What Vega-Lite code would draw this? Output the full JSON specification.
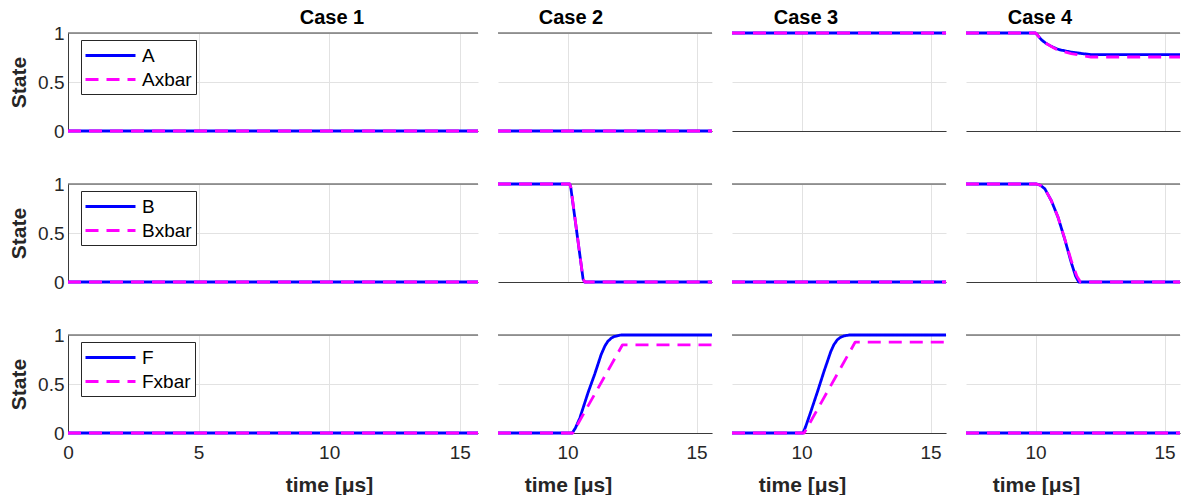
{
"$schema": "https://vega.github.io/schema/vega-lite/v6.json",
"background": "white",
"padding": {"left": 8, "top": 8, "right": 0, "bottom": 0},
"bounds": "flush",
"columns": 4,
"align": "each",
"spacing": {"row": 53, "column": 20},
"datasets": {"d": [
{"c":1,"v":"A","s":"A","t":0,"y":0},{"c":1,"v":"A","s":"A","t":15.7,"y":0},
{"c":1,"v":"A","s":"Axbar","t":0,"y":0},{"c":1,"v":"A","s":"Axbar","t":15.7,"y":0},
{"c":1,"v":"B","s":"B","t":0,"y":0},{"c":1,"v":"B","s":"B","t":15.7,"y":0},
{"c":1,"v":"B","s":"Bxbar","t":0,"y":0},{"c":1,"v":"B","s":"Bxbar","t":15.7,"y":0},
{"c":1,"v":"F","s":"F","t":0,"y":0},{"c":1,"v":"F","s":"F","t":15.7,"y":0},
{"c":1,"v":"F","s":"Fxbar","t":0,"y":0},{"c":1,"v":"F","s":"Fxbar","t":15.7,"y":0},

{"c":2,"v":"A","s":"A","t":7.3,"y":0},{"c":2,"v":"A","s":"A","t":15.6,"y":0},
{"c":2,"v":"A","s":"Axbar","t":7.3,"y":0},{"c":2,"v":"A","s":"Axbar","t":15.6,"y":0},
{"c":2,"v":"B","s":"B","t":7.3,"y":1},{"c":2,"v":"B","s":"B","t":10.08,"y":1},{"c":2,"v":"B","s":"B","t":10.12,"y":0.97},{"c":2,"v":"B","s":"B","t":10.6,"y":0.03},{"c":2,"v":"B","s":"B","t":10.66,"y":0},{"c":2,"v":"B","s":"B","t":15.6,"y":0},
{"c":2,"v":"B","s":"Bxbar","t":7.3,"y":1},{"c":2,"v":"B","s":"Bxbar","t":10.08,"y":1},{"c":2,"v":"B","s":"Bxbar","t":10.13,"y":0.96},{"c":2,"v":"B","s":"Bxbar","t":10.6,"y":0.03},{"c":2,"v":"B","s":"Bxbar","t":10.67,"y":0},{"c":2,"v":"B","s":"Bxbar","t":15.6,"y":0},
{"c":2,"v":"F","s":"F","t":7.3,"y":0},{"c":2,"v":"F","s":"F","t":10.18,"y":0},{"c":2,"v":"F","s":"F","t":10.3,"y":0.05},{"c":2,"v":"F","s":"F","t":10.47,"y":0.15},{"c":2,"v":"F","s":"F","t":10.79,"y":0.41},{"c":2,"v":"F","s":"F","t":11.05,"y":0.6},{"c":2,"v":"F","s":"F","t":11.3,"y":0.8},{"c":2,"v":"F","s":"F","t":11.45,"y":0.89},{"c":2,"v":"F","s":"F","t":11.56,"y":0.935},{"c":2,"v":"F","s":"F","t":11.7,"y":0.97},{"c":2,"v":"F","s":"F","t":11.81,"y":0.985},{"c":2,"v":"F","s":"F","t":12.07,"y":1},{"c":2,"v":"F","s":"F","t":15.6,"y":1},
{"c":2,"v":"F","s":"Fxbar","t":7.3,"y":0},{"c":2,"v":"F","s":"Fxbar","t":10.2,"y":0},{"c":2,"v":"F","s":"Fxbar","t":12.13,"y":0.9},{"c":2,"v":"F","s":"Fxbar","t":15.6,"y":0.9},

{"c":3,"v":"A","s":"A","t":7.3,"y":1},{"c":3,"v":"A","s":"A","t":15.6,"y":1},
{"c":3,"v":"A","s":"Axbar","t":7.3,"y":1},{"c":3,"v":"A","s":"Axbar","t":15.6,"y":1},
{"c":3,"v":"B","s":"B","t":7.3,"y":0},{"c":3,"v":"B","s":"B","t":15.6,"y":0},
{"c":3,"v":"B","s":"Bxbar","t":7.3,"y":0},{"c":3,"v":"B","s":"Bxbar","t":15.6,"y":0},
{"c":3,"v":"F","s":"F","t":7.3,"y":0},{"c":3,"v":"F","s":"F","t":10.05,"y":0},{"c":3,"v":"F","s":"F","t":10.15,"y":0.06},{"c":3,"v":"F","s":"F","t":10.36,"y":0.22},{"c":3,"v":"F","s":"F","t":10.62,"y":0.425},{"c":3,"v":"F","s":"F","t":10.87,"y":0.63},{"c":3,"v":"F","s":"F","t":11.13,"y":0.83},{"c":3,"v":"F","s":"F","t":11.25,"y":0.9},{"c":3,"v":"F","s":"F","t":11.38,"y":0.95},{"c":3,"v":"F","s":"F","t":11.5,"y":0.975},{"c":3,"v":"F","s":"F","t":11.64,"y":0.99},{"c":3,"v":"F","s":"F","t":11.85,"y":1},{"c":3,"v":"F","s":"F","t":15.6,"y":1},
{"c":3,"v":"F","s":"Fxbar","t":7.3,"y":0},{"c":3,"v":"F","s":"Fxbar","t":10.1,"y":0},{"c":3,"v":"F","s":"Fxbar","t":12.08,"y":0.928},{"c":3,"v":"F","s":"Fxbar","t":15.6,"y":0.928},

{"c":4,"v":"A","s":"A","t":7.3,"y":1},{"c":4,"v":"A","s":"A","t":10.0,"y":1},{"c":4,"v":"A","s":"A","t":10.1,"y":0.97},{"c":4,"v":"A","s":"A","t":10.23,"y":0.93},{"c":4,"v":"A","s":"A","t":10.4,"y":0.895},{"c":4,"v":"A","s":"A","t":10.61,"y":0.864},{"c":4,"v":"A","s":"A","t":10.8,"y":0.84},{"c":4,"v":"A","s":"A","t":11.0,"y":0.825},{"c":4,"v":"A","s":"A","t":11.38,"y":0.805},{"c":4,"v":"A","s":"A","t":11.9,"y":0.787},{"c":4,"v":"A","s":"A","t":12.15,"y":0.78},{"c":4,"v":"A","s":"A","t":15.6,"y":0.78},
{"c":4,"v":"A","s":"Axbar","t":7.3,"y":1},{"c":4,"v":"A","s":"Axbar","t":10.0,"y":1},{"c":4,"v":"A","s":"Axbar","t":10.1,"y":0.97},{"c":4,"v":"A","s":"Axbar","t":10.23,"y":0.93},{"c":4,"v":"A","s":"Axbar","t":10.4,"y":0.895},{"c":4,"v":"A","s":"Axbar","t":10.61,"y":0.862},{"c":4,"v":"A","s":"Axbar","t":10.8,"y":0.835},{"c":4,"v":"A","s":"Axbar","t":11.0,"y":0.815},{"c":4,"v":"A","s":"Axbar","t":11.38,"y":0.79},{"c":4,"v":"A","s":"Axbar","t":11.9,"y":0.765},{"c":4,"v":"A","s":"Axbar","t":12.15,"y":0.755},{"c":4,"v":"A","s":"Axbar","t":15.6,"y":0.755},
{"c":4,"v":"B","s":"B","t":7.3,"y":1},{"c":4,"v":"B","s":"B","t":10.04,"y":1},{"c":4,"v":"B","s":"B","t":10.2,"y":0.985},{"c":4,"v":"B","s":"B","t":10.36,"y":0.95},{"c":4,"v":"B","s":"B","t":10.61,"y":0.83},{"c":4,"v":"B","s":"B","t":10.87,"y":0.66},{"c":4,"v":"B","s":"B","t":11.13,"y":0.437},{"c":4,"v":"B","s":"B","t":11.38,"y":0.2},{"c":4,"v":"B","s":"B","t":11.55,"y":0.06},{"c":4,"v":"B","s":"B","t":11.67,"y":0},{"c":4,"v":"B","s":"B","t":15.6,"y":0},
{"c":4,"v":"B","s":"Bxbar","t":7.3,"y":1},{"c":4,"v":"B","s":"Bxbar","t":10.04,"y":1},{"c":4,"v":"B","s":"Bxbar","t":10.2,"y":0.985},{"c":4,"v":"B","s":"Bxbar","t":10.36,"y":0.95},{"c":4,"v":"B","s":"Bxbar","t":10.61,"y":0.83},{"c":4,"v":"B","s":"Bxbar","t":10.87,"y":0.66},{"c":4,"v":"B","s":"Bxbar","t":11.13,"y":0.44},{"c":4,"v":"B","s":"Bxbar","t":11.38,"y":0.22},{"c":4,"v":"B","s":"Bxbar","t":11.6,"y":0.06},{"c":4,"v":"B","s":"Bxbar","t":11.74,"y":0},{"c":4,"v":"B","s":"Bxbar","t":15.6,"y":0},
{"c":4,"v":"F","s":"F","t":7.3,"y":0},{"c":4,"v":"F","s":"F","t":15.6,"y":0},
{"c":4,"v":"F","s":"Fxbar","t":7.3,"y":0},{"c":4,"v":"F","s":"Fxbar","t":15.6,"y":0}
]},
"concat": [
{"width":410,"height":98,"title":{"text":"Case 1","dx":59},"layer":[
 {"data":{"values":[{}]},"mark":{"type":"rule","color":"#3a3a3a","strokeWidth":1},"encoding":{"y":{"datum":1,"type":"quantitative","scale":{"domain":[0,1]},"axis":{"values":[0,0.5,1],"format":"~g","title":"State","ticks":false,"labelPadding":4,"titlePadding":8}}}},
 {"data":{"name":"d"},"transform":[{"filter":"datum.c==1 && datum.v=='A'"}],"mark":{"type":"line","strokeWidth":2.8,"strokeJoin":"round"},"encoding":{
  "x":{"field":"t","type":"quantitative","scale":{"domain":[0,15.7],"nice":false,"zero":false},"axis":{"values":[0,5,10,15],"labels":false,"ticks":false,"title":null}},
  "y":{"field":"y","type":"quantitative","scale":{"domain":[0,1]},"axis":{"values":[0,0.5,1],"format":"~g","title":"State","ticks":false,"labelPadding":4,"titlePadding":8}},
  "color":{"field":"s","type":"nominal","scale":{"domain":["A","Axbar"],"range":["#0000ff","#ff00ff"]},"legend":{"title":null,"orient":"none","legendX":13,"legendY":7,"symbolType":"M-2.5,0H2.5","symbolSize":400,"symbolStrokeWidth":2.8,"symbolOffset":14,"labelOffset":20,"padding":4,"rowPadding":2,"strokeColor":"#262626","fillColor":"white","labelFontSize":19,"labelColor":"#000000"}},
  "strokeDash":{"field":"s","type":"nominal","scale":{"domain":["A","Axbar"],"range":[[1,0],[13,8]]},"legend":{"title":null,"orient":"none","legendX":13,"legendY":7,"symbolType":"M-2.5,0H2.5","symbolSize":400,"symbolStrokeWidth":2.8,"symbolOffset":14,"labelOffset":20,"padding":4,"rowPadding":2,"strokeColor":"#262626","fillColor":"white","labelFontSize":19,"labelColor":"#000000"}}}}]},
{"width":214,"height":98,"title":{"text":"Case 2","dx":-34},"layer":[
 {"data":{"values":[{}]},"mark":{"type":"rule","color":"#3a3a3a","strokeWidth":1},"encoding":{"y":{"datum":1,"type":"quantitative","scale":{"domain":[0,1]},"axis":{"values":[0,0.5,1],"format":"~g","labelOpacity":0,"labelPadding":4,"ticks":false,"domain":false,"title":null}}}},
 {"data":{"name":"d"},"transform":[{"filter":"datum.c==2 && datum.v=='A'"}],"mark":{"type":"line","strokeWidth":2.8,"strokeJoin":"round"},"encoding":{
  "x":{"field":"t","type":"quantitative","scale":{"domain":[7.3,15.6],"nice":false,"zero":false},"axis":{"values":[10,15],"labels":false,"ticks":false,"title":null}},
  "y":{"field":"y","type":"quantitative","scale":{"domain":[0,1]},"axis":{"values":[0,0.5,1],"format":"~g","labelOpacity":0,"labelPadding":4,"ticks":false,"domain":false,"title":null}},
  "color":{"field":"s","type":"nominal","scale":{"domain":["A","Axbar"],"range":["#0000ff","#ff00ff"]},"legend":null},
  "strokeDash":{"field":"s","type":"nominal","scale":{"domain":["A","Axbar"],"range":[[1,0],[13,8]]},"legend":null}}}]},
{"width":214,"height":98,"title":{"text":"Case 3","dx":-33},"layer":[
 {"data":{"values":[{}]},"mark":{"type":"rule","color":"#3a3a3a","strokeWidth":1},"encoding":{"y":{"datum":1,"type":"quantitative","scale":{"domain":[0,1]},"axis":{"values":[0,0.5,1],"format":"~g","labelOpacity":0,"labelPadding":4,"ticks":false,"domain":false,"title":null}}}},
 {"data":{"name":"d"},"transform":[{"filter":"datum.c==3 && datum.v=='A'"}],"mark":{"type":"line","strokeWidth":2.8,"strokeJoin":"round"},"encoding":{
  "x":{"field":"t","type":"quantitative","scale":{"domain":[7.3,15.6],"nice":false,"zero":false},"axis":{"values":[10,15],"labels":false,"ticks":false,"title":null}},
  "y":{"field":"y","type":"quantitative","scale":{"domain":[0,1]},"axis":{"values":[0,0.5,1],"format":"~g","labelOpacity":0,"labelPadding":4,"ticks":false,"domain":false,"title":null}},
  "color":{"field":"s","type":"nominal","scale":{"domain":["A","Axbar"],"range":["#0000ff","#ff00ff"]},"legend":null},
  "strokeDash":{"field":"s","type":"nominal","scale":{"domain":["A","Axbar"],"range":[[1,0],[13,8]]},"legend":null}}}]},
{"width":214,"height":98,"title":{"text":"Case 4","dx":-33},"layer":[
 {"data":{"values":[{}]},"mark":{"type":"rule","color":"#3a3a3a","strokeWidth":1},"encoding":{"y":{"datum":1,"type":"quantitative","scale":{"domain":[0,1]},"axis":{"values":[0,0.5,1],"format":"~g","labelOpacity":0,"labelPadding":4,"ticks":false,"domain":false,"title":null}}}},
 {"data":{"name":"d"},"transform":[{"filter":"datum.c==4 && datum.v=='A'"}],"mark":{"type":"line","strokeWidth":2.8,"strokeJoin":"round"},"encoding":{
  "x":{"field":"t","type":"quantitative","scale":{"domain":[7.3,15.6],"nice":false,"zero":false},"axis":{"values":[10,15],"labels":false,"ticks":false,"title":null}},
  "y":{"field":"y","type":"quantitative","scale":{"domain":[0,1]},"axis":{"values":[0,0.5,1],"format":"~g","labelOpacity":0,"labelPadding":4,"ticks":false,"domain":false,"title":null}},
  "color":{"field":"s","type":"nominal","scale":{"domain":["A","Axbar"],"range":["#0000ff","#ff00ff"]},"legend":null},
  "strokeDash":{"field":"s","type":"nominal","scale":{"domain":["A","Axbar"],"range":[[1,0],[13,8]]},"legend":null}}}]},

{"width":410,"height":98,"layer":[
 {"data":{"values":[{}]},"mark":{"type":"rule","color":"#3a3a3a","strokeWidth":1},"encoding":{"y":{"datum":1,"type":"quantitative","scale":{"domain":[0,1]},"axis":{"values":[0,0.5,1],"format":"~g","title":"State","ticks":false,"labelPadding":4,"titlePadding":8}}}},
 {"data":{"name":"d"},"transform":[{"filter":"datum.c==1 && datum.v=='B'"}],"mark":{"type":"line","strokeWidth":2.8,"strokeJoin":"round"},"encoding":{
  "x":{"field":"t","type":"quantitative","scale":{"domain":[0,15.7],"nice":false,"zero":false},"axis":{"values":[0,5,10,15],"labels":false,"ticks":false,"title":null}},
  "y":{"field":"y","type":"quantitative","scale":{"domain":[0,1]},"axis":{"values":[0,0.5,1],"format":"~g","title":"State","ticks":false,"labelPadding":4,"titlePadding":8}},
  "color":{"field":"s","type":"nominal","scale":{"domain":["B","Bxbar"],"range":["#0000ff","#ff00ff"]},"legend":{"title":null,"orient":"none","legendX":13,"legendY":7,"symbolType":"M-2.5,0H2.5","symbolSize":400,"symbolStrokeWidth":2.8,"symbolOffset":14,"labelOffset":20,"padding":4,"rowPadding":2,"strokeColor":"#262626","fillColor":"white","labelFontSize":19,"labelColor":"#000000"}},
  "strokeDash":{"field":"s","type":"nominal","scale":{"domain":["B","Bxbar"],"range":[[1,0],[13,8]]},"legend":{"title":null,"orient":"none","legendX":13,"legendY":7,"symbolType":"M-2.5,0H2.5","symbolSize":400,"symbolStrokeWidth":2.8,"symbolOffset":14,"labelOffset":20,"padding":4,"rowPadding":2,"strokeColor":"#262626","fillColor":"white","labelFontSize":19,"labelColor":"#000000"}}}}]},
{"width":214,"height":98,"layer":[
 {"data":{"values":[{}]},"mark":{"type":"rule","color":"#3a3a3a","strokeWidth":1},"encoding":{"y":{"datum":1,"type":"quantitative","scale":{"domain":[0,1]},"axis":{"values":[0,0.5,1],"labels":false,"ticks":false,"domain":false,"title":null}}}},
 {"data":{"name":"d"},"transform":[{"filter":"datum.c==2 && datum.v=='B'"}],"mark":{"type":"line","strokeWidth":2.8,"strokeJoin":"round"},"encoding":{
  "x":{"field":"t","type":"quantitative","scale":{"domain":[7.3,15.6],"nice":false,"zero":false},"axis":{"values":[10,15],"labels":false,"ticks":false,"title":null}},
  "y":{"field":"y","type":"quantitative","scale":{"domain":[0,1]},"axis":{"values":[0,0.5,1],"labels":false,"ticks":false,"domain":false,"title":null}},
  "color":{"field":"s","type":"nominal","scale":{"domain":["B","Bxbar"],"range":["#0000ff","#ff00ff"]},"legend":null},
  "strokeDash":{"field":"s","type":"nominal","scale":{"domain":["B","Bxbar"],"range":[[1,0],[13,8]]},"legend":null}}}]},
{"width":214,"height":98,"layer":[
 {"data":{"values":[{}]},"mark":{"type":"rule","color":"#3a3a3a","strokeWidth":1},"encoding":{"y":{"datum":1,"type":"quantitative","scale":{"domain":[0,1]},"axis":{"values":[0,0.5,1],"labels":false,"ticks":false,"domain":false,"title":null}}}},
 {"data":{"name":"d"},"transform":[{"filter":"datum.c==3 && datum.v=='B'"}],"mark":{"type":"line","strokeWidth":2.8,"strokeJoin":"round"},"encoding":{
  "x":{"field":"t","type":"quantitative","scale":{"domain":[7.3,15.6],"nice":false,"zero":false},"axis":{"values":[10,15],"labels":false,"ticks":false,"title":null}},
  "y":{"field":"y","type":"quantitative","scale":{"domain":[0,1]},"axis":{"values":[0,0.5,1],"labels":false,"ticks":false,"domain":false,"title":null}},
  "color":{"field":"s","type":"nominal","scale":{"domain":["B","Bxbar"],"range":["#0000ff","#ff00ff"]},"legend":null},
  "strokeDash":{"field":"s","type":"nominal","scale":{"domain":["B","Bxbar"],"range":[[1,0],[13,8]]},"legend":null}}}]},
{"width":214,"height":98,"layer":[
 {"data":{"values":[{}]},"mark":{"type":"rule","color":"#3a3a3a","strokeWidth":1},"encoding":{"y":{"datum":1,"type":"quantitative","scale":{"domain":[0,1]},"axis":{"values":[0,0.5,1],"labels":false,"ticks":false,"domain":false,"title":null}}}},
 {"data":{"name":"d"},"transform":[{"filter":"datum.c==4 && datum.v=='B'"}],"mark":{"type":"line","strokeWidth":2.8,"strokeJoin":"round"},"encoding":{
  "x":{"field":"t","type":"quantitative","scale":{"domain":[7.3,15.6],"nice":false,"zero":false},"axis":{"values":[10,15],"labels":false,"ticks":false,"title":null}},
  "y":{"field":"y","type":"quantitative","scale":{"domain":[0,1]},"axis":{"values":[0,0.5,1],"labels":false,"ticks":false,"domain":false,"title":null}},
  "color":{"field":"s","type":"nominal","scale":{"domain":["B","Bxbar"],"range":["#0000ff","#ff00ff"]},"legend":null},
  "strokeDash":{"field":"s","type":"nominal","scale":{"domain":["B","Bxbar"],"range":[[1,0],[13,8]]},"legend":null}}}]},

{"width":410,"height":98,"layer":[
 {"data":{"values":[{}]},"mark":{"type":"rule","color":"#3a3a3a","strokeWidth":1},"encoding":{"y":{"datum":1,"type":"quantitative","scale":{"domain":[0,1]},"axis":{"values":[0,0.5,1],"format":"~g","title":"State","ticks":false,"labelPadding":4,"titlePadding":8}}}},
 {"data":{"name":"d"},"transform":[{"filter":"datum.c==1 && datum.v=='F'"}],"mark":{"type":"line","strokeWidth":2.8,"strokeJoin":"round"},"encoding":{
  "x":{"field":"t","type":"quantitative","scale":{"domain":[0,15.7],"nice":false,"zero":false},"axis":{"values":[0,5,10,15],"format":"d","ticks":false,"labelPadding":10,"title":"time [μs]","titleX":261,"titlePadding":12}},
  "y":{"field":"y","type":"quantitative","scale":{"domain":[0,1]},"axis":{"values":[0,0.5,1],"format":"~g","title":"State","ticks":false,"labelPadding":4,"titlePadding":8}},
  "color":{"field":"s","type":"nominal","scale":{"domain":["F","Fxbar"],"range":["#0000ff","#ff00ff"]},"legend":{"title":null,"orient":"none","legendX":13,"legendY":7,"symbolType":"M-2.5,0H2.5","symbolSize":400,"symbolStrokeWidth":2.8,"symbolOffset":14,"labelOffset":20,"padding":4,"rowPadding":2,"strokeColor":"#262626","fillColor":"white","labelFontSize":19,"labelColor":"#000000"}},
  "strokeDash":{"field":"s","type":"nominal","scale":{"domain":["F","Fxbar"],"range":[[1,0],[13,8]]},"legend":{"title":null,"orient":"none","legendX":13,"legendY":7,"symbolType":"M-2.5,0H2.5","symbolSize":400,"symbolStrokeWidth":2.8,"symbolOffset":14,"labelOffset":20,"padding":4,"rowPadding":2,"strokeColor":"#262626","fillColor":"white","labelFontSize":19,"labelColor":"#000000"}}}}]},
{"width":214,"height":98,"layer":[
 {"data":{"values":[{}]},"mark":{"type":"rule","color":"#3a3a3a","strokeWidth":1},"encoding":{"y":{"datum":1,"type":"quantitative","scale":{"domain":[0,1]},"axis":{"values":[0,0.5,1],"labels":false,"ticks":false,"domain":false,"title":null}}}},
 {"data":{"name":"d"},"transform":[{"filter":"datum.c==2 && datum.v=='F'"}],"mark":{"type":"line","strokeWidth":2.8,"strokeJoin":"round"},"encoding":{
  "x":{"field":"t","type":"quantitative","scale":{"domain":[7.3,15.6],"nice":false,"zero":false},"axis":{"values":[10,15],"format":"d","ticks":false,"labelPadding":10,"title":"time [μs]","titleX":70,"titlePadding":12}},
  "y":{"field":"y","type":"quantitative","scale":{"domain":[0,1]},"axis":{"values":[0,0.5,1],"labels":false,"ticks":false,"domain":false,"title":null}},
  "color":{"field":"s","type":"nominal","scale":{"domain":["F","Fxbar"],"range":["#0000ff","#ff00ff"]},"legend":null},
  "strokeDash":{"field":"s","type":"nominal","scale":{"domain":["F","Fxbar"],"range":[[1,0],[13,8]]},"legend":null}}}]},
{"width":214,"height":98,"layer":[
 {"data":{"values":[{}]},"mark":{"type":"rule","color":"#3a3a3a","strokeWidth":1},"encoding":{"y":{"datum":1,"type":"quantitative","scale":{"domain":[0,1]},"axis":{"values":[0,0.5,1],"labels":false,"ticks":false,"domain":false,"title":null}}}},
 {"data":{"name":"d"},"transform":[{"filter":"datum.c==3 && datum.v=='F'"}],"mark":{"type":"line","strokeWidth":2.8,"strokeJoin":"round"},"encoding":{
  "x":{"field":"t","type":"quantitative","scale":{"domain":[7.3,15.6],"nice":false,"zero":false},"axis":{"values":[10,15],"format":"d","ticks":false,"labelPadding":10,"title":"time [μs]","titleX":70,"titlePadding":12}},
  "y":{"field":"y","type":"quantitative","scale":{"domain":[0,1]},"axis":{"values":[0,0.5,1],"labels":false,"ticks":false,"domain":false,"title":null}},
  "color":{"field":"s","type":"nominal","scale":{"domain":["F","Fxbar"],"range":["#0000ff","#ff00ff"]},"legend":null},
  "strokeDash":{"field":"s","type":"nominal","scale":{"domain":["F","Fxbar"],"range":[[1,0],[13,8]]},"legend":null}}}]},
{"width":214,"height":98,"layer":[
 {"data":{"values":[{}]},"mark":{"type":"rule","color":"#3a3a3a","strokeWidth":1},"encoding":{"y":{"datum":1,"type":"quantitative","scale":{"domain":[0,1]},"axis":{"values":[0,0.5,1],"labels":false,"ticks":false,"domain":false,"title":null}}}},
 {"data":{"name":"d"},"transform":[{"filter":"datum.c==4 && datum.v=='F'"}],"mark":{"type":"line","strokeWidth":2.8,"strokeJoin":"round"},"encoding":{
  "x":{"field":"t","type":"quantitative","scale":{"domain":[7.3,15.6],"nice":false,"zero":false},"axis":{"values":[10,15],"format":"d","ticks":false,"labelPadding":10,"title":"time [μs]","titleX":70,"titlePadding":12}},
  "y":{"field":"y","type":"quantitative","scale":{"domain":[0,1]},"axis":{"values":[0,0.5,1],"labels":false,"ticks":false,"domain":false,"title":null}},
  "color":{"field":"s","type":"nominal","scale":{"domain":["F","Fxbar"],"range":["#0000ff","#ff00ff"]},"legend":null},
  "strokeDash":{"field":"s","type":"nominal","scale":{"domain":["F","Fxbar"],"range":[[1,0],[13,8]]},"legend":null}}}]}
],
"resolve": {
 "scale": {"x":"independent","y":"independent","color":"independent","strokeDash":"independent"},
 "axis": {"x":"independent","y":"independent"},
 "legend": {"color":"independent","strokeDash":"independent"}
},
"config": {
 "font": "Liberation Sans",
 "view": {"stroke": null},
 "axis": {"grid": true, "gridColor": "#e2e2e2", "gridWidth": 1, "domainColor": "#3a3a3a", "domainWidth": 1, "labelColor": "#262626", "labelFontSize": 19, "labelFont": "Liberation Sans", "titleFont": "Liberation Sans", "titleFontSize": 21, "titleFontWeight": "bold", "titleColor": "#262626", "labelFlush": false},
 "title": {"fontSize": 20, "fontWeight": "bold", "color": "#000000", "font": "Liberation Sans", "offset": -4, "anchor": "middle"},
 "legend": {"labelFont": "Liberation Sans"}
}
}
